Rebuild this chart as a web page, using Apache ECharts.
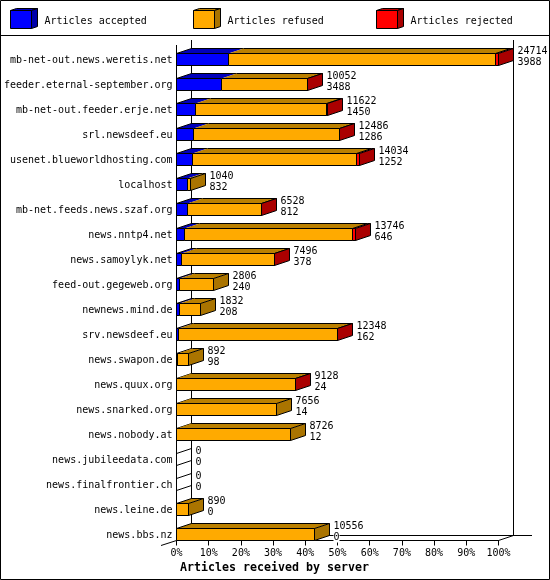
<!DOCTYPE html>
<html>
<head>
<meta charset="utf-8">
<style>html,body{margin:0;padding:0;background:#fff}#c{width:550px;height:580px}</style>
<script src="https://cdn.jsdelivr.net/npm/echarts@6/dist/echarts.min.js"></script>
</head>
<body>
<div id="c"></div>
<script>
const servers = ["mb-net-out.news.weretis.net","feeder.eternal-september.org","mb-net-out.feeder.erje.net","srl.newsdeef.eu","usenet.blueworldhosting.com","localhost","mb-net.feeds.news.szaf.org","news.nntp4.net","news.samoylyk.net","feed-out.gegeweb.org","newnews.mind.de","srv.newsdeef.eu","news.swapon.de","news.quux.org","news.snarked.org","news.nobody.at","news.jubileedata.com","news.finalfrontier.ch","news.leine.de","news.bbs.nz"];
const totals = [24714,10052,11622,12486,14034,1040,6528,13746,7496,2806,1832,12348,892,9128,7656,8726,0,0,890,10556];
const accepted = [3988,3488,1450,1286,1252,832,812,646,378,240,208,162,98,24,14,12,0,0,0,0];
const rejected = [250,10,110,10,250,0,10,200,10,0,0,15,0,10,0,0,0,0,0,0];
const seriesNames = ["Articles accepted","Articles refused","Articles rejected"];
const ticks = [0,10,20,30,40,50,60,70,80,90,100];

const FRONT = ["#0000FF","#FFAA00","#FF0000"];
const TOP   = ["#0000BB","#BB8000","#BB0000"];
const SIDE  = ["#0000AA","#AA7400","#AA0000"];
const DX = 15, DY = -5, HALF = 6;
const MONO = '"DejaVu Sans Mono", monospace';
const maxTotal = Math.max(...totals);
const pct = v => v / maxTotal * 100;
const snap = v => Math.floor(v) + 0.5;

function segments(i){
  const a = accepted[i], r = rejected[i], f = totals[i] - a - r;
  return [[0,a],[a,a+f],[a+f,a+f+r]];
}
function lastSeg(i){
  const s = segments(i);
  for(let k=2;k>=0;k--) if(s[k][1]>s[k][0]) return k;
  return -1;
}
function line(x1,y1,x2,y2){
  return {type:'line',shape:{x1,y1,x2,y2},style:{stroke:'#000',lineWidth:1,fill:null}};
}
function poly(points,fill){
  return {type:'polygon',shape:{points},style:{fill,stroke:null}};
}
function renderSeg(k){
  return function(params,api){
    const i = api.value(2);
    const s = api.coord([api.value(0),i]);
    const e = api.coord([api.value(1),i]);
    const x0 = snap(s[0]), x1 = snap(e[0]);
    const yt = snap(s[1]) - HALF, yb = yt + 2*HALF;
    const kids = [];
    if(totals[i]===0){
      if(k===0){
        kids.push(line(x0,yt,x0+DX,yt+DY), line(x0,yb,x0+DX,yb+DY));
      }
      return {type:'group',children:kids};
    }
    if(api.value(1)<=api.value(0)) return {type:'group',children:kids};
    kids.push(poly([[x0,yt],[x0+DX,yt+DY],[x1+DX,yt+DY],[x1,yt]],TOP[k]));
    kids.push(line(x0+DX,yt+DY,x1+DX,yt+DY));
    const first = segments(i).findIndex(q=>q[1]>q[0]);
    if(first===k || k===2) kids.push(line(x0,yt,x0+DX,yt+DY));
    kids.push({type:'rect',shape:{x:x0,y:yt,width:x1-x0,height:yb-yt},style:{fill:FRONT[k],stroke:'#000',lineWidth:1}});
    if(lastSeg(i)===k){
      kids.push({type:'polygon',shape:{points:[[x1,yt],[x1+DX,yt+DY],[x1+DX,yb+DY],[x1,yb]]},style:{fill:SIDE[k],stroke:'#000',lineWidth:1}});
    }
    return {type:'group',children:kids};
  };
}
function renderLabels(params,api){
  const i = api.value(1);
  const p = api.coord([api.value(0),i]);
  const x = snap(p[0]) + DX + 4, y = snap(p[1]);
  const txt = (t,yy)=>({type:'text',style:{text:String(t),x,y:yy,font:'10px '+MONO,fill:'#000',backgroundColor:'#fff',textAlign:'left',textVerticalAlign:'middle'}});
  return {type:'group',children:[txt(totals[i],y-8),txt(accepted[i],y+3)]};
}

const series = seriesNames.map((name,k)=>({
  type:'custom',name,clip:false,z:3+k,
  itemStyle:{color:FRONT[k]},
  encode:{x:[0,1],y:2},
  renderItem:renderSeg(k),
  data:servers.map((_,i)=>{const q=segments(i)[k];return [pct(q[0]),pct(q[1]),i];})
}));
series.push({
  type:'custom',name:'labels',clip:false,z:8,silent:true,
  encode:{x:0,y:1},renderItem:renderLabels,
  data:servers.map((_,i)=>[pct(totals[i]),i])
});

const legendLeft = [10,193,376];
const legends = seriesNames.map((name,k)=>({
  left:legendLeft[k],top:10,itemWidth:21,itemHeight:18,padding:0,
  selectedMode:false,
  formatter:n=>'{a|'+n+'}',
  data:[{name,icon:'rect',itemStyle:{color:FRONT[k],borderColor:'#000',borderWidth:1}}],
  textStyle:{fontFamily:MONO,fontSize:10,color:'#000',
    rich:{a:{fontFamily:MONO,fontSize:10,color:'#000',padding:[3,0,0,8]}}}
}));

const black = {stroke:'#000',lineWidth:1,fill:null};
const seg = (x1,y1,x2,y2)=>({type:'line',z:1,shape:{x1,y1,x2,y2},style:black});
const gfx = [
  {type:'rect',z:0,shape:{x:0.5,y:0.5,width:549,height:579},style:black},
  seg(0,35.5,550,35.5),
  seg(176.5,45,176.5,540.5),
  seg(191.5,40,191.5,535.5),
  seg(513.5,40,513.5,535.5),
  seg(191.5,535.5,532,535.5),
  seg(161,545.5,176.5,540.5),
  seg(498.5,540.5,513.5,535.5)
];
legendLeft.forEach((l,k)=>{
  const x0=l+0.5,x1=x0+21,yt=10.5,yb=28.5,dx=6,dy=-2;
  gfx.push({type:'polygon',z:1,shape:{points:[[x0,yt],[x0+dx,yt+dy],[x1+dx,yt+dy],[x1,yt]]},style:{fill:TOP[k],stroke:'#000',lineWidth:1}});
  gfx.push({type:'polygon',z:1,shape:{points:[[x1,yt],[x1+dx,yt+dy],[x1+dx,yb+dy],[x1,yb]]},style:{fill:SIDE[k],stroke:'#000',lineWidth:1}});
});

const chart = echarts.init(document.getElementById('c'),null,{renderer:'canvas'});
chart.setOption({
  animation:false,
  backgroundColor:'#fff',
  title:{text:'Articles received by server',left:180,top:562,padding:0,
    textStyle:{fontFamily:MONO,fontSize:11.63,fontWeight:'bold',color:'#000'}},
  legend:legends,
  grid:{left:176.5,right:51.5,top:47,bottom:33,containLabel:false},
  xAxis:{type:'value',min:0,max:100,interval:10,offset:-6.5,
    axisLine:{show:true,lineStyle:{color:'#000',width:1}},
    axisTick:{show:true,length:5,lineStyle:{color:'#000',width:1}},
    splitLine:{show:false},
    axisLabel:{color:'#000',fontFamily:MONO,fontSize:10,margin:8,showMinLabel:true,showMaxLabel:true,
      formatter:v=>ticks.includes(v)?v+'%':''}},
  yAxis:{type:'category',inverse:true,data:servers,
    axisLine:{show:false},axisTick:{show:false},
    axisLabel:{color:'#000',fontFamily:MONO,fontSize:10,margin:4,interval:0,
      formatter:n=>'{a|'+n+'}',
      rich:{a:{fontFamily:MONO,fontSize:10,color:'#000',padding:[2,0,0,0]}}}},
  graphic:{elements:gfx},
  series
});
</script>
</body>
</html>
